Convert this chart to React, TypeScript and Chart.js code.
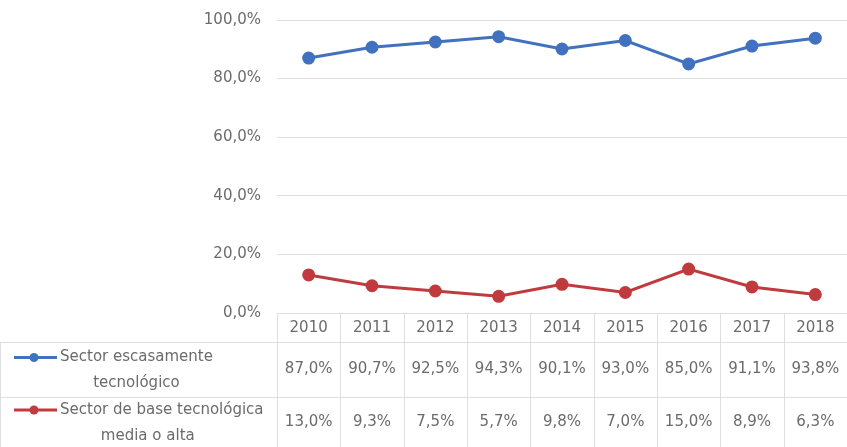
import React, { useEffect, useRef } from "react";
import { Chart, registerables } from "chart.js";

Chart.register(...registerables);

const years = ["2010", "2011", "2012", "2013", "2014", "2015", "2016", "2017", "2018"];
const escasamente = [87.0, 90.7, 92.5, 94.3, 90.1, 93.0, 85.0, 91.1, 93.8];
const baseTecnologica = [13.0, 9.3, 7.5, 5.7, 9.8, 7.0, 15.0, 8.9, 6.3];
const seriesLabels = [["Sector escasamente", "tecnológico"], ["Sector de base tecnológica", "media o alta"]];
const yTicks = [0, 20, 40, 60, 80, 100];

const BLUE = "#4171bf";
const RED = "#c03b3d";
const TEXT = "#6b6b6b";
const GRID = "#dedede";
const FONT = "DejaVu Sans";

const fmt = (v: number) => v.toFixed(1).replace(".", ",") + "%";

const tablePlugin = {
  id: "dataTable",
  afterDraw(chart: any) {
    const { ctx, chartArea } = chart;
    const x = chart.scales.x;
    const left = chartArea.left;
    const right = chartArea.right;
    const top = chartArea.bottom;
    const n = years.length;
    const colW = (right - left) / n;
    const headerBottom = top + 29;
    const row1Bottom = headerBottom + 55;
    const bottom = chart.height;
    ctx.save();
    ctx.strokeStyle = GRID;
    ctx.lineWidth = 1;
    [headerBottom, row1Bottom].forEach((y) => {
      ctx.beginPath();
      ctx.moveTo(0, Math.round(y) + 0.5);
      ctx.lineTo(right, Math.round(y) + 0.5);
      ctx.stroke();
    });
    for (let i = 0; i <= n; i++) {
      const xv = Math.round(left + i * colW) + 0.5;
      ctx.beginPath();
      ctx.moveTo(xv, top);
      ctx.lineTo(xv, bottom);
      ctx.stroke();
    }
    ctx.beginPath();
    ctx.moveTo(0.5, headerBottom);
    ctx.lineTo(0.5, bottom);
    ctx.stroke();

    ctx.fillStyle = TEXT;
    ctx.font = `15px "${FONT}"`;
    ctx.textAlign = "center";
    ctx.textBaseline = "middle";
    years.forEach((yr, i) => {
      const cx = x.getPixelForValue(i);
      ctx.fillText(yr, cx, (top + headerBottom) / 2 + 1);
    });
    const rows = [
      { data: escasamente, color: BLUE, y0: headerBottom, y1: row1Bottom, label: seriesLabels[0], off: 0 },
      { data: baseTecnologica, color: RED, y0: row1Bottom, y1: bottom, label: seriesLabels[1], off: -14 },
    ];
    rows.forEach((r) => {
      const cy = (r.y0 + r.y1) / 2;
      r.data.forEach((v, i) => {
        const cx = x.getPixelForValue(i);
        ctx.fillStyle = TEXT;
        ctx.textAlign = "center";
        ctx.fillText(fmt(v), cx, cy);
      });
      const ly = cy - 12;
      ctx.strokeStyle = r.color;
      ctx.lineWidth = 3;
      ctx.beginPath();
      ctx.moveTo(14, ly);
      ctx.lineTo(57, ly);
      ctx.stroke();
      ctx.fillStyle = r.color;
      ctx.beginPath();
      ctx.arc(34, ly, 4.5, 0, Math.PI * 2);
      ctx.fill();
      ctx.fillStyle = TEXT;
      ctx.textAlign = "left";
      ctx.fillText(r.label[0], 60, ly);
      const w1 = ctx.measureText(r.label[0]).width;
      ctx.textAlign = "center";
      ctx.fillText(r.label[1], 60 + w1 / 2 + r.off, ly + 26);
      ctx.strokeStyle = GRID;
      ctx.lineWidth = 1;
    });
    ctx.restore();
  },
};

export default function App() {
  const ref = useRef<HTMLCanvasElement | null>(null);
  useEffect(() => {
    document.body.style.margin = "0";
    const chart = new Chart(ref.current as HTMLCanvasElement, {
      type: "line",
      data: {
        labels: years,
        datasets: [
          {
            label: seriesLabels[0].join(" "),
            data: escasamente,
            borderColor: BLUE,
            backgroundColor: BLUE,
            borderWidth: 3,
            pointRadius: 5,
            pointBackgroundColor: BLUE,
            pointBorderColor: BLUE,
            tension: 0,
          },
          {
            label: seriesLabels[1].join(" "),
            data: baseTecnologica,
            borderColor: RED,
            backgroundColor: RED,
            borderWidth: 3,
            pointRadius: 5,
            pointBackgroundColor: RED,
            pointBorderColor: RED,
            tension: 0,
          },
        ],
      },
      options: {
        responsive: false,
        animation: false,
        layout: { autoPadding: false, padding: { top: 20, right: 0, bottom: 134, left: 0 } },
        plugins: { legend: { display: false }, tooltip: { enabled: false } },
        scales: {
          x: { display: false, offset: true },
          y: {
            min: 0,
            max: 100,
            afterBuildTicks: (axis: any) => {
              axis.ticks = yTicks.map((v) => ({ value: v }));
            },
            afterFit: (axis: any) => {
              axis.width = 277;
              axis.paddingTop = 0;
              axis.paddingBottom = 0;
            },
            border: { display: false },
            grid: { color: GRID, lineWidth: 1, drawTicks: false },
            ticks: {
              padding: 16,
              color: TEXT,
              font: { family: FONT, size: 15 },
              callback: (v: any) => fmt(Number(v)),
            },
          },
        },
      },
      plugins: [tablePlugin],
    });
    return () => chart.destroy();
  }, []);
  return <canvas ref={ref} width={847} height={447} style={{ display: "block" }} />;
}
